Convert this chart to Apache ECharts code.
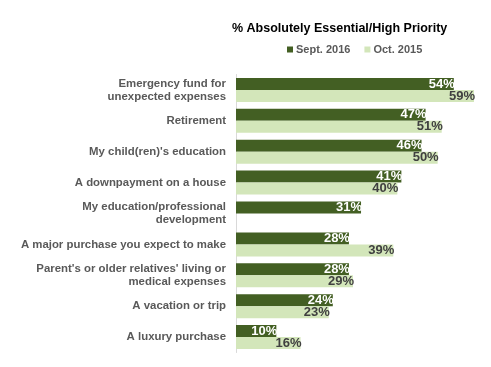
<!DOCTYPE html>
<html><head><meta charset="utf-8">
<script src="https://cdn.jsdelivr.net/npm/echarts@6/dist/echarts.min.js"></script>
<style>html,body{margin:0;padding:0;background:#fff}#c{width:491px;height:367px}</style>
</head><body><div id="c"></div>
<script>
var categories = ["Emergency fund for\nunexpected expenses","Retirement","My child(ren)'s education","A downpayment on a house","My education/professional\ndevelopment","A major purchase you expect to make","Parent's or older relatives' living or\nmedical expenses","A vacation or trip","A luxury purchase"];
var sept2016 = [54,47,46,41,31,28,28,24,10];
var oct2015 = [59,51,50,40,null,39,29,23,16];
var chart = echarts.init(document.getElementById('c'));
var F = '"Liberation Sans", Arial, sans-serif';
chart.setOption({
  animation:false,
  textStyle:{fontFamily:F},
  title:{text:'% Absolutely Essential/High Priority',left:227,top:17,
    textStyle:{fontSize:12.5,fontWeight:'bold',color:'#000',fontFamily:F}},
  legend:{left:282,top:39,itemWidth:6,itemHeight:6,itemGap:14,icon:'rect',
    textStyle:{fontSize:11,fontWeight:'bold',color:'#595959',fontFamily:F,padding:[0,0,0,-2]},
    data:['Sept. 2016','Oct. 2015']},
  grid:{left:236,right:13,top:74.5,bottom:14.5,containLabel:false},
  xAxis:{type:'value',min:0,max:60,show:false},
  yAxis:{type:'category',data:categories,inverse:true,
    axisLine:{lineStyle:{color:'#d9d9d9'}},axisTick:{show:false},
    axisLabel:{fontSize:11.4,fontWeight:'bold',color:'#595959',fontFamily:F,margin:10,lineHeight:13,align:'right'}},
  series:[
    {name:'Sept. 2016',type:'bar',data:sept2016,barWidth:12,barGap:'0%',barCategoryGap:'22%',
     itemStyle:{color:'#435F23'},
     label:{show:true,position:'insideRight',offset:[3,0],distance:2,formatter:'{c}%',color:'#fff',fontSize:13,fontWeight:'bold',fontFamily:F}},
    {name:'Oct. 2015',type:'bar',data:oct2015,barWidth:12,barGap:'0%',
     itemStyle:{color:'#D3E6BA'},
     label:{show:true,position:'insideRight',offset:[3,0],distance:2,formatter:'{c}%',color:'#404040',fontSize:13,fontWeight:'bold',fontFamily:F}}
  ]
});
</script></body></html>
